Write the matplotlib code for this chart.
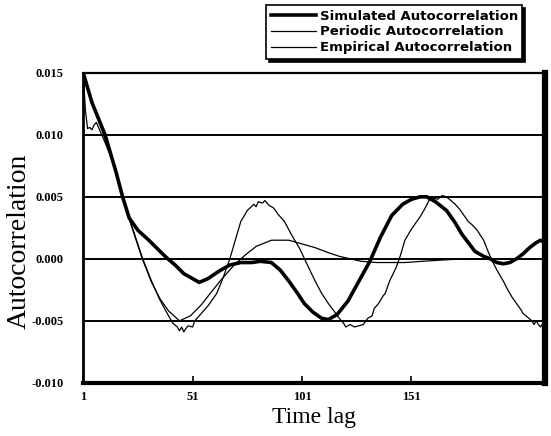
import matplotlib
matplotlib.use("Agg")
import matplotlib.pyplot as plt

# lag / value pairs (values in units of 1e-3)
sim_lag = [1, 5, 11, 16, 19, 22, 26, 31, 35, 39, 43, 47, 51, 54, 58, 63, 68, 73,
           78, 82, 87, 91, 95, 99, 102, 106, 110, 113, 117, 122, 127, 132, 137,
           142, 147, 151, 155, 158, 162, 167, 171, 174, 177, 180, 184, 187, 190,
           193, 196, 199, 202, 205, 208, 210, 212]
sim_val = [15.0, 12.6, 10.0, 7.0, 5.0, 3.3, 2.3, 1.5, 0.8, 0.1, -0.5, -1.2, -1.6,
           -1.9, -1.6, -1.0, -0.5, -0.3, -0.3, -0.2, -0.3, -0.9, -1.8, -2.8, -3.6,
           -4.3, -4.8, -4.9, -4.5, -3.4, -1.8, -0.2, 1.8, 3.5, 4.4, 4.8, 5.0, 5.0,
           4.6, 3.9, 2.9, 2.0, 1.3, 0.6, 0.2, 0.0, -0.3, -0.4, -0.3, 0.0, 0.4, 0.9,
           1.3, 1.5, 1.3]

per_lag = [1, 5, 10, 15, 19, 22, 25, 28, 32, 36, 40, 45, 50, 55, 59, 64, 70, 75,
           80, 87, 95, 101, 107, 113, 118, 123, 128, 135, 141, 148, 156, 165, 175,
           185, 195, 205, 212]
per_val = [15.0, 12.6, 10.2, 7.5, 5.0, 3.2, 1.6, 0.0, -1.8, -3.2, -4.2, -5.0,
           -4.6, -3.7, -2.8, -1.7, -0.5, 0.3, 1.0, 1.5, 1.5, 1.2, 0.9, 0.5, 0.2,
           0.0, -0.2, -0.3, -0.3, -0.3, -0.2, -0.1, 0.0, 0.0, 0.0, 0.0, 0.0]

emp_lag = [1, 2, 3, 4, 5, 6, 7, 8, 10, 13, 16, 19, 22, 25, 28, 32, 36, 40, 42, 44,
           45, 46, 47, 48, 49, 51, 52, 54, 58, 62, 65, 68, 70, 73, 76, 79, 80, 81,
           83, 84, 86, 88, 90, 93, 96, 100, 104, 107, 110, 113, 116, 118, 120, 121,
           123, 125, 127, 129, 131, 133, 134, 136, 138, 139, 141, 144, 146, 148,
           151, 155, 157, 159, 161, 163, 165, 167, 169, 171, 173, 175, 177, 179,
           181, 184, 186, 188, 190, 193, 195, 197, 199, 201, 202, 204, 206, 207,
           208, 209, 210, 211, 212]
emp_val = [15.0, 12.0, 10.5, 10.6, 10.4, 10.8, 11.0, 10.6, 9.8, 8.5, 7.0, 5.2, 3.3,
           1.7, 0.1, -1.7, -3.3, -4.6, -5.2, -5.5, -5.8, -5.5, -5.9, -5.6, -5.4,
           -5.5, -5.0, -4.6, -3.8, -2.8, -1.5, 0.0, 1.2, 3.0, 3.9, 4.4, 4.2, 4.6,
           4.5, 4.7, 4.3, 4.1, 3.6, 3.0, 2.0, 0.8, -0.7, -1.8, -2.8, -3.6, -4.3,
           -4.8, -5.2, -5.5, -5.3, -5.5, -5.4, -5.3, -4.8, -4.6, -4.0, -3.6, -3.0,
           -2.8, -1.8, -0.7, 0.3, 1.5, 2.4, 3.4, 4.0, 4.7, 4.9, 4.8, 5.1, 5.0, 4.7,
           4.4, 4.0, 3.5, 3.0, 2.7, 2.3, 1.5, 0.6, -0.2, -0.9, -1.8, -2.5, -3.1,
           -3.6, -4.1, -4.4, -4.7, -5.0, -5.3, -5.0, -5.3, -5.5, -5.2, -5.6]

x_ticks = [1, 51, 101, 151]
y_ticks = [-0.010, -0.005, 0.000, 0.005, 0.010, 0.015]
y_ticklabels = ["-0.010", "-0.005", "0.000", "0.005", "0.010", "0.015"]


def scaled(vals):
    return [v * 1e-3 for v in vals]


fig = plt.figure(figsize=(5.51, 4.36), dpi=100)
ax = fig.add_axes([0.151, 0.122, 0.838, 0.711])

# horizontal reference lines at every y tick
for y in y_ticks[1:-1]:
    ax.axhline(y, color="black", lw=1.4, zorder=1)

ax.plot(sim_lag, scaled(sim_val), color="black", lw=2.6,
        label="Simulated Autocorrelation", zorder=3)
ax.plot(per_lag, scaled(per_val), color="black", lw=0.9,
        label="Periodic Autocorrelation", zorder=2)
ax.plot(emp_lag, scaled(emp_val), color="black", lw=0.9,
        label="Empirical Autocorrelation", zorder=2)

ax.set_xlim(1, 212)
ax.set_ylim(-0.010, 0.015)

ax.set_xticks(x_ticks)
ax.set_xticklabels([str(t) for t in x_ticks], fontfamily="Liberation Serif",
                   fontweight="bold", fontsize=9)
ax.set_yticks(y_ticks)
ax.set_yticklabels(y_ticklabels, fontfamily="Liberation Serif",
                   fontweight="bold", fontsize=9)
ax.tick_params(axis="x", direction="in", length=5, width=1.2, pad=6)
ax.tick_params(axis="y", length=0, pad=14)

ax.spines["left"].set_linewidth(2.0)
ax.spines["top"].set_linewidth(1.6)
ax.spines["bottom"].set_linewidth(3.0)
ax.spines["right"].set_linewidth(4.5)

ax.set_xlabel("Time lag", fontfamily="Liberation Serif", fontsize=17, labelpad=3)
ax.set_ylabel("Autocorrelation", fontfamily="Liberation Serif", fontsize=20)
ax.yaxis.set_label_coords(-0.112, 0.455)

handles, labels = ax.get_legend_handles_labels()
leg = fig.legend(handles, labels, loc="upper left", bbox_to_anchor=(0.483, 0.988),
                 borderaxespad=0, fancybox=False, framealpha=1, edgecolor="black",
                 shadow={"color": "black", "alpha": 1},
                 prop={"family": "DejaVu Sans", "weight": "bold", "size": 9.5},
                 handlelength=3.4, handletextpad=0.3, labelspacing=0.2,
                 borderpad=0.35)
leg.get_frame().set_linewidth(1.2)

fig.savefig("out.png", dpi=100)
